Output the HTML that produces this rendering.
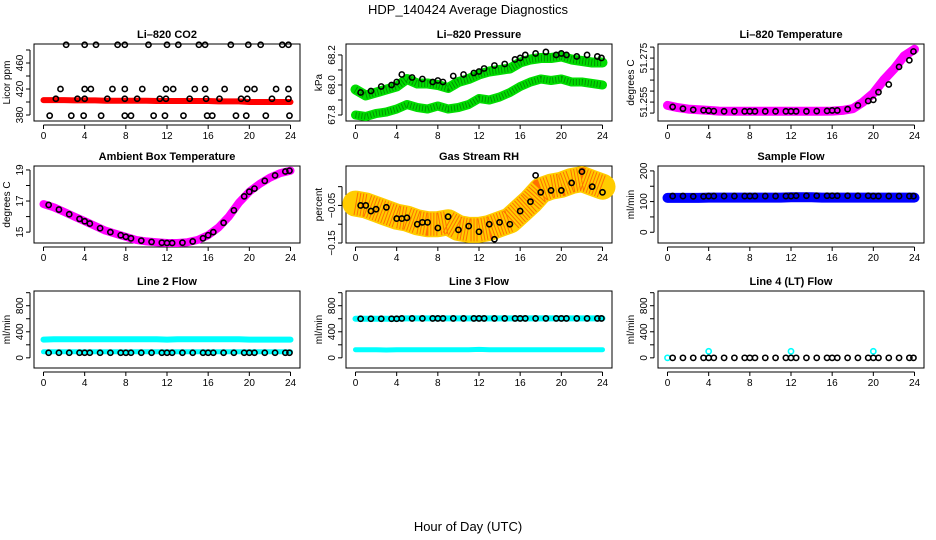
<!DOCTYPE html>
<html><head><meta charset="utf-8"><style>
body{margin:0;background:#fff;}
svg{display:block;font-family:"Liberation Sans",Arial,sans-serif;}
</style></head><body>
<svg id="chart" width="936" height="540" viewBox="0 0 936 540">
<text x="468" y="14" text-anchor="middle" font-size="13">HDP_140424  Average Diagnostics</text>
<text x="468" y="531" text-anchor="middle" font-size="13">Hour of Day (UTC)</text>
</svg>
<script>
// ---------- data ----------
const hourTicks = [0,4,8,12,16,20,24];
const bandHours = [0,1,2,3,4,5,6,7,8,9,10,11,12,13,14,15,16,17,18,19,20,21,22,23,24];
const ptHours = [0.5,1.5,2.5,3.5,4,4.5,5.5,6.5,7.5,8,8.5,9.5,10.5,11.5,12,12.5,13.5,14.5,15.5,16,16.5,17.5,18.5,19.5,20,20.5,21.5,22.5,23.5,23.9];

// CO2
const co2Hours = [2.2,4.0,5.1,7.2,7.9,10.2,12.0,13.1,15.1,15.7,18.2,19.9,21.1,23.2,23.8,
 1.65,4.0,4.6,6.7,7.9,9.6,11.9,12.6,14.7,15.7,17.6,19.8,20.5,22.6,23.8,
 1.2,3.3,4.0,6.2,7.9,9.1,11.3,11.9,14.2,15.8,17.1,19.2,19.8,22.2,23.8,
 0.6,2.7,3.9,5.6,7.9,8.5,10.7,11.8,13.6,15.9,16.4,18.7,19.7,21.6,23.9];
const co2Values = [488,488,488,488,488,488,488,488,488,488,488,488,488,488,488,
 420,420,420,420,420,420,420,420,420,420,420,420,420,420,420,
 405,405,405,405,405,405,405,405,405,405,405,405,405,405,405,
 379,379,379,379,379,379,379,379,379,379,379,379,379,379,379];
const co2Band = [403,403,403,402.5,402.5,402.5,402,402,402,402,402,401.5,401.5,401.5,401.5,401.5,401.5,401,401,401,400,400,400,400,400];

// Pressure
const presUpper = [67.97,67.93,67.95,67.97,67.99,68.04,68.01,68.01,68.0,67.98,68.02,68.04,68.07,68.09,68.10,68.11,68.15,68.17,68.18,68.18,68.19,68.17,68.16,68.15,68.15];
const presLower = [67.80,67.79,67.81,67.82,67.84,67.87,67.85,67.84,67.86,67.84,67.85,67.87,67.91,67.90,67.92,67.95,67.99,68.02,68.04,68.03,68.04,68.02,68.02,68.01,68.00];
const presPts = [67.95,67.96,67.99,68.0,68.02,68.07,68.05,68.04,68.02,68.03,68.02,68.06,68.07,68.08,68.09,68.11,68.13,68.14,68.17,68.18,68.20,68.21,68.22,68.20,68.21,68.20,68.19,68.20,68.19,68.18];

// Li-820 temperature
const tempBand = [51.2535,51.2525,51.2518,51.2515,51.2512,51.2509,51.2508,51.2508,51.2508,51.2508,51.2508,51.2508,51.2508,51.2508,51.2508,51.2508,51.2509,51.2512,51.252,51.255,51.259,51.265,51.270,51.276,51.279];
const tempPts = [51.2528,51.252,51.2515,51.2513,51.2511,51.2509,51.2508,51.2508,51.2508,51.2508,51.2508,51.2508,51.2508,51.2508,51.2508,51.2508,51.2508,51.2509,51.2510,51.2512,51.2512,51.2518,51.2535,51.2555,51.256,51.2595,51.263,51.271,51.274,51.278];

// Ambient box temperature
const ambBand = [16.8,16.6,16.3,16.0,15.7,15.4,15.1,14.9,14.7,14.5,14.4,14.35,14.3,14.3,14.35,14.5,14.8,15.3,16.0,16.9,17.6,18.1,18.5,18.8,18.95];
const ambPts = [16.75,16.45,16.15,15.85,15.7,15.55,15.25,15.0,14.8,14.7,14.6,14.45,14.37,14.32,14.3,14.3,14.32,14.4,14.6,14.8,15.0,15.6,16.4,17.3,17.6,17.8,18.3,18.65,18.9,18.95];

// Gas stream RH
const rhBand = [-0.045,-0.05,-0.06,-0.07,-0.08,-0.085,-0.095,-0.10,-0.10,-0.095,-0.11,-0.115,-0.115,-0.11,-0.10,-0.09,-0.065,-0.04,-0.01,0.0,0.005,0.015,0.02,0.01,0.0];
const rhHours = [0.5,1,1.5,2,3,4,4.5,5,6,6.5,7,8,9,10,11,12,13,13.5,14,15,16,17,17.5,18,19,20,21,22,23,24];
const rhPts = [-0.05,-0.05,-0.065,-0.06,-0.055,-0.085,-0.085,-0.083,-0.10,-0.095,-0.095,-0.11,-0.08,-0.115,-0.105,-0.12,-0.10,-0.14,-0.095,-0.10,-0.065,-0.04,0.03,-0.015,-0.01,-0.01,0.01,0.04,0.0,-0.015];

// Flows
const sampleBand = [112,112,112,112,113,113,113,113,113,113,113,113,114,114,114,113,113,113,113,113,113,113,113,113,113];
const samplePts = [118,118,117,117,118,118,118,118,118,118,118,118,118,118,118,119,119,119,119,119,119,119,119,119,118,118,118,118,118,118];
const line2Upper = [280,285,285,285,285,285,285,285,285,285,285,285,280,285,285,285,285,285,285,285,280,280,280,280,280];
const line2Lower = [93,93,93,93,93,93,93,93,93,93,93,93,93,93,93,93,93,93,93,93,93,93,93,93,93];
const line2Pts = [78,78,78,78,78,78,78,78,78,78,78,78,78,78,78,78,78,78,78,78,78,78,78,78,78,78,78,78,78,78];
const line3Upper = [600,600,600,600,600,605,605,605,605,605,605,605,605,605,605,605,605,605,605,605,605,605,605,605,605];
const line3Lower = [125,125,125,120,125,125,125,125,125,125,125,125,130,125,125,125,125,125,125,125,125,125,125,125,125];
const line3Pts = [600,600,600,600,600,605,605,605,605,605,605,605,605,605,605,605,605,605,605,605,605,605,605,605,605,605,605,605,605,605];
const line4Hours = [0,4,12,20];
const line4Cyan = [0,100,100,100];
const line4Pts = [0,0,0,0,0,0,0,0,0,0,0,0,0,0,0,0,0,0,0,0,0,0,0,0,0,0,0,0,0,0];

// ---------- drawing ----------
const svg = document.getElementById('chart');
const NS = 'http://www.w3.org/2000/svg';
function mk(tag, attrs, parent){ const e=document.createElementNS(NS,tag); for(const k in attrs) e.setAttribute(k,attrs[k]); (parent||svg).appendChild(e); return e; }

const W=266,H=77;
function panel(slug,title,left,top,ylim,yTicks,yLabels,ytitle){
  const g=mk('g',{});
  
  
  const xs = h => left + 9.5 + h*(247/24);
  const ys = v => top + H - (v-ylim[0])/(ylim[1]-ylim[0])*H;
  const t=mk('text',{x:left+W/2,y:top-6,'text-anchor':'middle','font-size':'11','font-weight':'bold'},g);
  t.textContent=title;
  
  
  const box=mk('rect',{x:left,y:top,width:W,height:H,fill:'none',stroke:'#000','stroke-width':1},g);
  
  
  const xa=mk('g',{},g);
  
  
  mk('line',{x1:xs(0),x2:xs(24),y1:top+H+4,y2:top+H+4,stroke:'#000'},xa);
  hourTicks.forEach(h=>{
    mk('line',{x1:xs(h),x2:xs(h),y1:top+H+4,y2:top+H+8,stroke:'#000'},xa);
    const l=mk('text',{x:xs(h),y:top+H+18,'text-anchor':'middle','font-size':'10'},xa); l.textContent=h;
  });
  const ya=mk('g',{},g);
  
  
  const yl=Math.max(ys(yTicks[0]),ys(yTicks[yTicks.length-1])), yh=Math.min(ys(yTicks[0]),ys(yTicks[yTicks.length-1]));
  mk('line',{x1:left-4,x2:left-4,y1:yl,y2:yh,stroke:'#000'},ya);
  yTicks.forEach(v=>mk('line',{x1:left-8,x2:left-4,y1:ys(v),y2:ys(v),stroke:'#000'},ya));
  yLabels.forEach(([v,s])=>{
    const l=mk('text',{x:left-11,y:ys(v),'text-anchor':'middle','font-size':'10',transform:`rotate(-90 ${left-11} ${ys(v)})`},ya); l.textContent=s;
  });
  const yt=mk('text',{x:left-24,y:top+H/2,'text-anchor':'middle','font-size':'10',transform:`rotate(-90 ${left-24} ${top+H/2})`},g);
  yt.textContent=ytitle;
  
  
  return {g,xs,ys};
}
function band(p,slug,hours,vals,color,width,dash){
  const d=hours.map((h,i)=>(i?'L':'M')+p.xs(h).toFixed(1)+','+p.ys(vals[i]).toFixed(1)).join(' ');
  const e=mk('path',{d:d,fill:'none',stroke:color,'stroke-width':width,'stroke-linejoin':'round','stroke-linecap':'round'},p.g);
  if(dash){ mk('path',{d:d,fill:'none',stroke:dash,'stroke-width':width-3,'stroke-dasharray':'1 2',opacity:0.6},p.g); }
  
  
}
function pts(p,slug,hours,vals,color,r){
  const g=mk('g',{},p.g);
  
  
  hours.forEach((h,i)=>{
    const c=mk('circle',{cx:p.xs(h),cy:p.ys(vals[i]),r:r||2.6,fill:'none',stroke:color,'stroke-width':1.6},g);
    
    
  });
}

const C=[34,346,658], R=[44,166,291];

let p=panel('co2','Li\u2013820 CO2',C[0],R[0],[370.8,489.2],[380,400,420,440,460,480],[[380,'380'],[420,'420'],[460,'460']],'Licor ppm');
band(p,'co2-red-band',bandHours,co2Band,'#ff0000',6);
pts(p,'co2-points',co2Hours,co2Values,'#000');

p=panel('pressure','Li\u2013820 Pressure',C[1],R[0],[67.76,68.273],[67.8,67.9,68.0,68.1,68.2],[[67.8,'67.8'],[68.0,'68.0'],[68.2,'68.2']],'kPa');
band(p,'pressure-lower-band',bandHours,presLower,'#00dd00',9,'#006600');
band(p,'pressure-upper-band',bandHours,presUpper,'#00dd00',10,'#006600');
pts(p,'pressure-points',ptHours,presPts,'#000');

p=panel('li820-temp','Li\u2013820 Temperature',C[2],R[0],[51.2464,51.2814],[51.25,51.255,51.26,51.265,51.27,51.275,51.28],[[51.255,'51.255'],[51.275,'51.275']],'degrees C');
band(p,'li820-temp-band',bandHours,tempBand,'#ff00ff',9);
pts(p,'li820-temp-points',ptHours,tempPts,'#000');

p=panel('ambient','Ambient Box Temperature',C[0],R[1],[14.3,19.254],[15,16,17,18,19],[[15,'15'],[17,'17'],[19,'19']],'degrees C');
band(p,'ambient-band',bandHours,ambBand,'#ff00ff',8);
pts(p,'ambient-points',ptHours,ambPts,'#000');

p=panel('rh','Gas Stream RH',C[1],R[1],[-0.15,0.055],[-0.15,-0.1,-0.05,0],[[-0.15,'\u22120.15'],[-0.05,'\u22120.05']],'percent');
band(p,'rh-band',bandHours,rhBand,'#ffcc00',26,'#ff3300');
pts(p,'rh-points',rhHours,rhPts,'#000');

p=panel('sample-flow','Sample Flow',C[2],R[1],[-35,216],[0,50,100,150,200],[[0,'0'],[100,'100'],[200,'200']],'ml/min');
band(p,'sample-flow-band',bandHours,sampleBand,'#0000ff',10);
pts(p,'sample-flow-points',ptHours,samplePts,'#000');

const fT=[0,200,400,600,800,1000], fL=[[0,'0'],[400,'400'],[800,'800']];
p=panel('line2','Line 2 Flow',C[0],R[2],[-156,1026],fT,fL,'ml/min');
band(p,'line2-upper-band',bandHours,line2Upper,'#00ffff',6);
band(p,'line2-lower-band',bandHours,line2Lower,'#00ffff',5);
pts(p,'line2-points',ptHours,line2Pts,'#000');

p=panel('line3','Line 3 Flow',C[1],R[2],[-156,1026],fT,fL,'ml/min');
band(p,'line3-upper-band',bandHours,line3Upper,'#00ffff',6);
band(p,'line3-lower-band',bandHours,line3Lower,'#00ffff',5);
pts(p,'line3-points',ptHours,line3Pts,'#000');

p=panel('line4','Line 4 (LT) Flow',C[2],R[2],[-156,1026],fT,fL,'ml/min');
pts(p,'line4-cyan-points',line4Hours,line4Cyan,'#00ffff');
pts(p,'line4-points',ptHours,line4Pts,'#000');
</script>
</body></html>
